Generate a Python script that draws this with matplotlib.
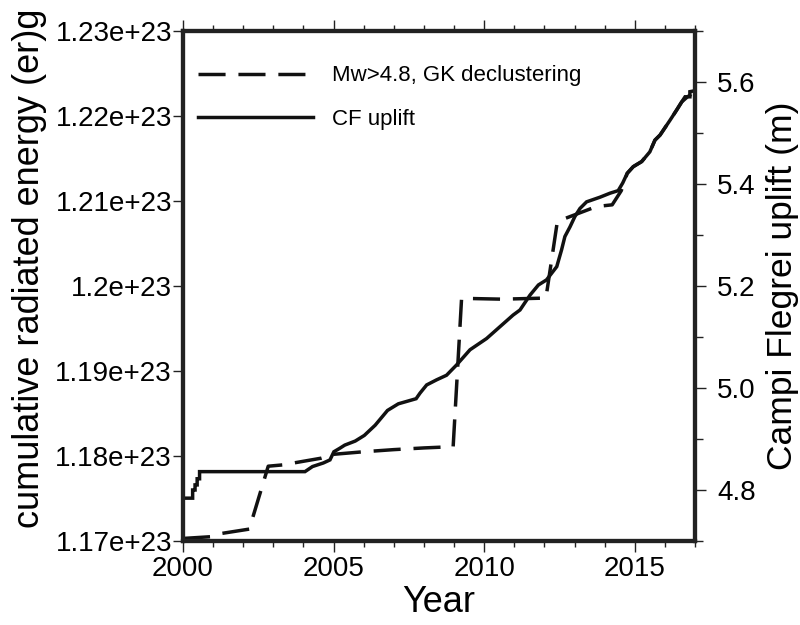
import matplotlib
matplotlib.use("Agg")
import matplotlib.pyplot as plt
from matplotlib.lines import Line2D
from matplotlib.ticker import MultipleLocator, FixedLocator

plt.rcParams['font.family'] = ['Liberation Sans', 'DejaVu Sans']

# CF uplift (m), right axis
uplift_year = [2000.00, 2000.32, 2000.32, 2000.40, 2000.40, 2000.47, 2000.47, 2000.55, 2000.55,
               2004.05, 2004.30, 2004.66, 2004.88, 2005.01, 2005.21, 2005.37, 2005.72, 2006.02,
               2006.38, 2006.79, 2007.15, 2007.74, 2007.87, 2008.09, 2008.42, 2008.75, 2009.08,
               2009.53, 2010.08, 2010.52, 2010.96, 2011.19, 2011.52, 2011.80, 2012.07, 2012.41,
               2012.57, 2012.68, 2012.85, 2013.01, 2013.18, 2013.40, 2013.84, 2014.18, 2014.45,
               2014.60, 2014.75, 2014.95, 2015.23, 2015.50, 2015.67, 2015.84, 2016.17, 2016.39,
               2016.56, 2016.67, 2016.83, 2016.83, 2017.00]
uplift_m = [4.784, 4.784, 4.800, 4.800, 4.810, 4.810, 4.822, 4.822, 4.836,
            4.836, 4.846, 4.853, 4.859, 4.875, 4.882, 4.888, 4.896, 4.907,
            4.927, 4.956, 4.969, 4.979, 4.990, 5.006, 5.016, 5.025, 5.045,
            5.075, 5.097, 5.120, 5.143, 5.153, 5.182, 5.202, 5.212, 5.238,
            5.271, 5.297, 5.316, 5.336, 5.352, 5.365, 5.374, 5.382, 5.387,
            5.402, 5.421, 5.434, 5.444, 5.463, 5.486, 5.496, 5.525, 5.545,
            5.561, 5.571, 5.571, 5.581, 5.583]

# Cumulative radiated energy, Mw>4.8 GK declustering, left axis
energy_year = [2000.00, 2000.90, 2001.30, 2002.20, 2002.83, 2003.30, 2004.60, 2005.00,
               2006.00, 2007.00, 2008.00, 2008.97, 2009.25, 2010.60, 2012.05, 2012.43,
               2013.73, 2014.25, 2014.55, 2014.75, 2014.95, 2015.23, 2015.50, 2015.67,
               2015.84, 2016.17, 2016.39, 2016.56, 2016.75, 2017.00]
energy_e23 = [1.17030, 1.17050, 1.17090, 1.17140, 1.17880, 1.17895, 1.17975, 1.18020,
              1.18050, 1.18075, 1.18095, 1.18110, 1.19855, 1.19845, 1.19858, 1.20760,
              1.20935, 1.20955, 1.21120, 1.21326, 1.21404, 1.21464, 1.21578, 1.21716,
              1.21776, 1.21950, 1.22070, 1.22166, 1.22226, 1.22280]
energy = [v * 1e23 for v in energy_e23]

left_ticks = [1.17e23, 1.18e23, 1.19e23, 1.20e23, 1.21e23, 1.22e23, 1.23e23]
left_labels = ['1.17e+23', '1.18e+23', '1.19e+23', '1.2e+23', '1.21e+23', '1.22e+23', '1.23e+23']
right_ticks = [4.8, 5.0, 5.2, 5.4, 5.6]
right_labels = ['4.8', '5.0', '5.2', '5.4', '5.6']
x_ticks = [2000, 2005, 2010, 2015]
x_labels = ['2000', '2005', '2010', '2015']

fig = plt.figure(figsize=(8.0, 6.25), dpi=100)
ax = fig.add_axes([0.22875, 0.1344, 0.64, 0.816])
ax2 = ax.twinx()

lw = 2.5
dash = (0, (7.8, 3.7))
ax.plot(energy_year, energy, color='#111111', lw=lw, linestyle=dash)
ax2.plot(uplift_year, uplift_m, color='#111111', lw=lw, solid_joinstyle='miter')

ax.set_xlim(2000, 2017)
ax.set_ylim(1.17e23, 1.23e23)
ax2.set_ylim(4.7, 5.7)

ax.yaxis.set_major_locator(FixedLocator(left_ticks))
ax.set_yticklabels(left_labels)
ax.xaxis.set_major_locator(FixedLocator(x_ticks))
ax.set_xticklabels(x_labels)
ax.xaxis.set_minor_locator(MultipleLocator(1))
ax2.yaxis.set_major_locator(FixedLocator(right_ticks))
ax2.set_yticklabels(right_labels)
ax2.yaxis.set_minor_locator(MultipleLocator(0.1))

for a in (ax, ax2):
    for s in a.spines.values():
        s.set_linewidth(3.0)
        s.set_color('#222222')

ax.tick_params(axis='x', which='major', direction='out', length=8, width=1.0,
               labelsize=20, pad=3, top=True, color='#222222')
ax.tick_params(axis='x', which='minor', direction='out', length=4.5, width=1.0,
               top=True, color='#222222')
ax.tick_params(axis='y', which='major', direction='out', length=7, width=1.0,
               labelsize=20, pad=1, color='#222222')
ax2.tick_params(axis='y', which='major', direction='out', length=8, width=1.0,
                labelsize=20, pad=8, color='#222222')
ax2.tick_params(axis='y', which='minor', direction='out', length=6, width=1.0,
                color='#222222')

ax.set_xlabel('Year', fontsize=26, labelpad=2)
ax.set_ylabel('cumulative radiated energy (er)g', fontsize=26)
ax.yaxis.set_label_coords(-0.265, 0.535)
ax2.set_ylabel('Campi Flegrei uplift (m)', fontsize=25.5)
ax2.yaxis.set_label_coords(1.139, 0.50)

handles = [Line2D([], [], color='#111111', lw=lw, linestyle=dash),
           Line2D([], [], color='#111111', lw=lw)]
ax.legend(handles, ['Mw>4.8, GK declustering', 'CF uplift'], loc='upper left',
          bbox_to_anchor=(-0.01, 0.972), frameon=False, fontsize=16,
          handlelength=5.2, handletextpad=0.85, labelspacing=1.0)

fig.savefig('out.png', dpi=100)
